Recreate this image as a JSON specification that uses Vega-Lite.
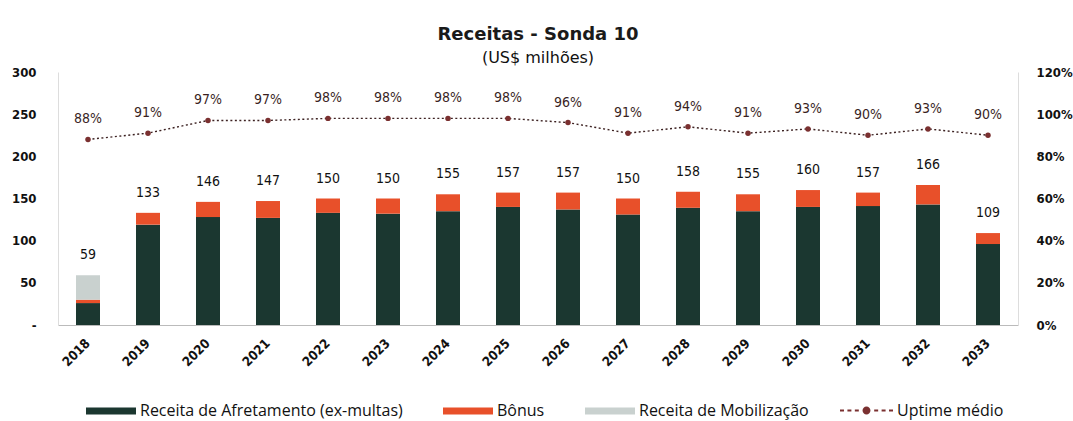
{
  "$schema": "https://vega.github.io/schema/vega-lite/v6.json",
  "width": 960,
  "height": 253,
  "autosize": {"type": "none"},
  "padding": {"left": 58, "top": 72, "right": 55, "bottom": 96},
  "background": "white",
  "config": {
    "view": {"stroke": null},
    "font": "DejaVu Sans Condensed, sans-serif",
    "axis": {"grid": false}
  },
  "title": {
    "text": "Receitas - Sonda 10",
    "subtitle": "(US$ milhões)",
    "font": "DejaVu Sans",
    "fontSize": 18,
    "fontWeight": "bold",
    "color": "#1a1a1a",
    "subtitleFont": "DejaVu Sans",
    "subtitleFontSize": 16,
    "subtitleColor": "#111111",
    "subtitlePadding": 6,
    "anchor": "middle",
    "offset": 0
  },
  "datasets": {
    "barras": [
      {"ano": "2018", "serie": "Receita de Afretamento (ex-multas)", "ordem": 1, "valor": 26},
      {"ano": "2018", "serie": "Bônus", "ordem": 2, "valor": 4},
      {"ano": "2018", "serie": "Receita de Mobilização", "ordem": 3, "valor": 29},
      {"ano": "2019", "serie": "Receita de Afretamento (ex-multas)", "ordem": 1, "valor": 119},
      {"ano": "2019", "serie": "Bônus", "ordem": 2, "valor": 14},
      {"ano": "2020", "serie": "Receita de Afretamento (ex-multas)", "ordem": 1, "valor": 128},
      {"ano": "2020", "serie": "Bônus", "ordem": 2, "valor": 18},
      {"ano": "2021", "serie": "Receita de Afretamento (ex-multas)", "ordem": 1, "valor": 127},
      {"ano": "2021", "serie": "Bônus", "ordem": 2, "valor": 20},
      {"ano": "2022", "serie": "Receita de Afretamento (ex-multas)", "ordem": 1, "valor": 133},
      {"ano": "2022", "serie": "Bônus", "ordem": 2, "valor": 17},
      {"ano": "2023", "serie": "Receita de Afretamento (ex-multas)", "ordem": 1, "valor": 132},
      {"ano": "2023", "serie": "Bônus", "ordem": 2, "valor": 18},
      {"ano": "2024", "serie": "Receita de Afretamento (ex-multas)", "ordem": 1, "valor": 135},
      {"ano": "2024", "serie": "Bônus", "ordem": 2, "valor": 20},
      {"ano": "2025", "serie": "Receita de Afretamento (ex-multas)", "ordem": 1, "valor": 140},
      {"ano": "2025", "serie": "Bônus", "ordem": 2, "valor": 17},
      {"ano": "2026", "serie": "Receita de Afretamento (ex-multas)", "ordem": 1, "valor": 137},
      {"ano": "2026", "serie": "Bônus", "ordem": 2, "valor": 20},
      {"ano": "2027", "serie": "Receita de Afretamento (ex-multas)", "ordem": 1, "valor": 131},
      {"ano": "2027", "serie": "Bônus", "ordem": 2, "valor": 19},
      {"ano": "2028", "serie": "Receita de Afretamento (ex-multas)", "ordem": 1, "valor": 139},
      {"ano": "2028", "serie": "Bônus", "ordem": 2, "valor": 19},
      {"ano": "2029", "serie": "Receita de Afretamento (ex-multas)", "ordem": 1, "valor": 135},
      {"ano": "2029", "serie": "Bônus", "ordem": 2, "valor": 20},
      {"ano": "2030", "serie": "Receita de Afretamento (ex-multas)", "ordem": 1, "valor": 140},
      {"ano": "2030", "serie": "Bônus", "ordem": 2, "valor": 20},
      {"ano": "2031", "serie": "Receita de Afretamento (ex-multas)", "ordem": 1, "valor": 141},
      {"ano": "2031", "serie": "Bônus", "ordem": 2, "valor": 16},
      {"ano": "2032", "serie": "Receita de Afretamento (ex-multas)", "ordem": 1, "valor": 143},
      {"ano": "2032", "serie": "Bônus", "ordem": 2, "valor": 23},
      {"ano": "2033", "serie": "Receita de Afretamento (ex-multas)", "ordem": 1, "valor": 96},
      {"ano": "2033", "serie": "Bônus", "ordem": 2, "valor": 13}
    ],
    "anos": [
      {"ano": "2018", "total": 59, "uptime": 0.88, "serie": "Uptime médio"},
      {"ano": "2019", "total": 133, "uptime": 0.91, "serie": "Uptime médio"},
      {"ano": "2020", "total": 146, "uptime": 0.97, "serie": "Uptime médio"},
      {"ano": "2021", "total": 147, "uptime": 0.97, "serie": "Uptime médio"},
      {"ano": "2022", "total": 150, "uptime": 0.98, "serie": "Uptime médio"},
      {"ano": "2023", "total": 150, "uptime": 0.98, "serie": "Uptime médio"},
      {"ano": "2024", "total": 155, "uptime": 0.98, "serie": "Uptime médio"},
      {"ano": "2025", "total": 157, "uptime": 0.98, "serie": "Uptime médio"},
      {"ano": "2026", "total": 157, "uptime": 0.96, "serie": "Uptime médio"},
      {"ano": "2027", "total": 150, "uptime": 0.91, "serie": "Uptime médio"},
      {"ano": "2028", "total": 158, "uptime": 0.94, "serie": "Uptime médio"},
      {"ano": "2029", "total": 155, "uptime": 0.91, "serie": "Uptime médio"},
      {"ano": "2030", "total": 160, "uptime": 0.93, "serie": "Uptime médio"},
      {"ano": "2031", "total": 157, "uptime": 0.90, "serie": "Uptime médio"},
      {"ano": "2032", "total": 166, "uptime": 0.93, "serie": "Uptime médio"},
      {"ano": "2033", "total": 109, "uptime": 0.90, "serie": "Uptime médio"}
    ]
  },
  "encoding": {
    "x": {
      "field": "ano",
      "type": "ordinal",
      "scale": {"paddingInner": 0.6, "paddingOuter": 0.3},
      "axis": {
        "title": null,
        "labelAngle": -45,
        "labelAlign": "right",
        "labelBaseline": "middle",
        "labelPadding": 16,
        "labelFontSize": 13,
        "labelFontWeight": "bold",
        "labelColor": "#111111",
        "ticks": false,
        "domainColor": "#bbbbbb"
      }
    }
  },
  "layer": [
    {
      "layer": [
        {
          "data": {"name": "barras"},
          "mark": {"type": "bar"},
          "encoding": {
            "y": {
              "field": "valor",
              "type": "quantitative",
              "stack": "zero",
              "scale": {"domain": [0, 300]},
              "axis": {
                "title": null,
                "values": [0, 50, 100, 150, 200, 250, 300],
                "labelExpr": "datum.value == 0 ? '-' : datum.label",
                "labelFontSize": 13,
                "labelFontWeight": "bold",
                "labelColor": "#111111",
                "labelPadding": 22,
                "ticks": false,
                "domainColor": "#dddddd"
              }
            },
            "order": {"field": "ordem", "type": "quantitative", "sort": "ascending"},
            "color": {
              "field": "serie",
              "type": "nominal",
              "sort": ["Receita de Afretamento (ex-multas)", "Bônus", "Receita de Mobilização"],
              "scale": {
                "domain": ["Receita de Afretamento (ex-multas)", "Bônus", "Receita de Mobilização"],
                "range": ["#1b3730", "#e8502a", "#c9d1cf"]
              },
              "legend": {
                "title": null,
                "orient": "none",
                "legendX": 28,
                "legendY": 314,
                "direction": "horizontal",
                "symbolType": "M-1,-0.14H1V0.14H-1Z",
                "symbolSize": 2500,
                "symbolStrokeWidth": 0,
                "labelFont": "Open Sans",
                "labelFontSize": 16,
                "labelColor": "#111111",
                "labelOffset": 4,
                "labelLimit": 0,
                "columnPadding": 40
              }
            }
          }
        },
        {
          "data": {"name": "anos"},
          "mark": {"type": "text", "dy": -20, "fontSize": 14, "color": "#111111"},
          "encoding": {
            "y": {"field": "total", "type": "quantitative"},
            "text": {"field": "total", "type": "quantitative"}
          }
        }
      ]
    },
    {
      "data": {"name": "anos"},
      "layer": [
        {
          "mark": {"type": "line", "color": "#3d2222", "strokeDash": [2, 2.5], "strokeWidth": 1.4},
          "encoding": {
            "y": {
              "field": "uptime",
              "type": "quantitative",
              "scale": {"domain": [0, 1.2]},
              "axis": {
                "orient": "right",
                "title": null,
                "values": [0, 0.2, 0.4, 0.6, 0.8, 1.0, 1.2],
                "format": ".0%",
                "labelFontSize": 13,
                "labelFontWeight": "bold",
                "labelColor": "#111111",
                "labelPadding": 18,
                "ticks": false,
                "domainColor": "#dddddd"
              }
            }
          }
        },
        {
          "mark": {"type": "point", "filled": true, "size": 30, "opacity": 1},
          "encoding": {
            "y": {"field": "uptime", "type": "quantitative"},
            "color": {
              "field": "serie",
              "type": "nominal",
              "scale": {"domain": ["Uptime médio"], "range": ["#7a3030"]},
              "legend": {
                "title": null,
                "orient": "none",
                "legendX": 782,
                "legendY": 312,
                "symbolType": "M-1,-0.04H-0.85V0.04H-1Z M-0.72,-0.04H-0.57V0.04H-0.72Z M-0.44,-0.04H-0.29V0.04H-0.44Z M0.29,-0.04H0.44V0.04H0.29Z M0.57,-0.04H0.72V0.04H0.57Z M0.85,-0.04H1V0.04H0.85Z M0.15,0 A0.15,0.15 0 1,1 -0.15,0 A0.15,0.15 0 1,1 0.15,0 Z",
                "symbolSize": 2809,
                "symbolFillColor": "#e0552f",
                "symbolStrokeWidth": 0,
                "labelFont": "Open Sans",
                "labelFontSize": 16,
                "labelColor": "#111111",
                "labelOffset": 4,
                "labelLimit": 0
              }
            }
          }
        },
        {
          "mark": {"type": "text", "dy": -20, "fontSize": 14, "color": "#3a1f1f"},
          "encoding": {
            "y": {"field": "uptime", "type": "quantitative"},
            "text": {"field": "uptime", "type": "quantitative", "format": ".0%"}
          }
        }
      ]
    }
  ],
  "resolve": {"scale": {"y": "independent", "color": "independent"}}
}
